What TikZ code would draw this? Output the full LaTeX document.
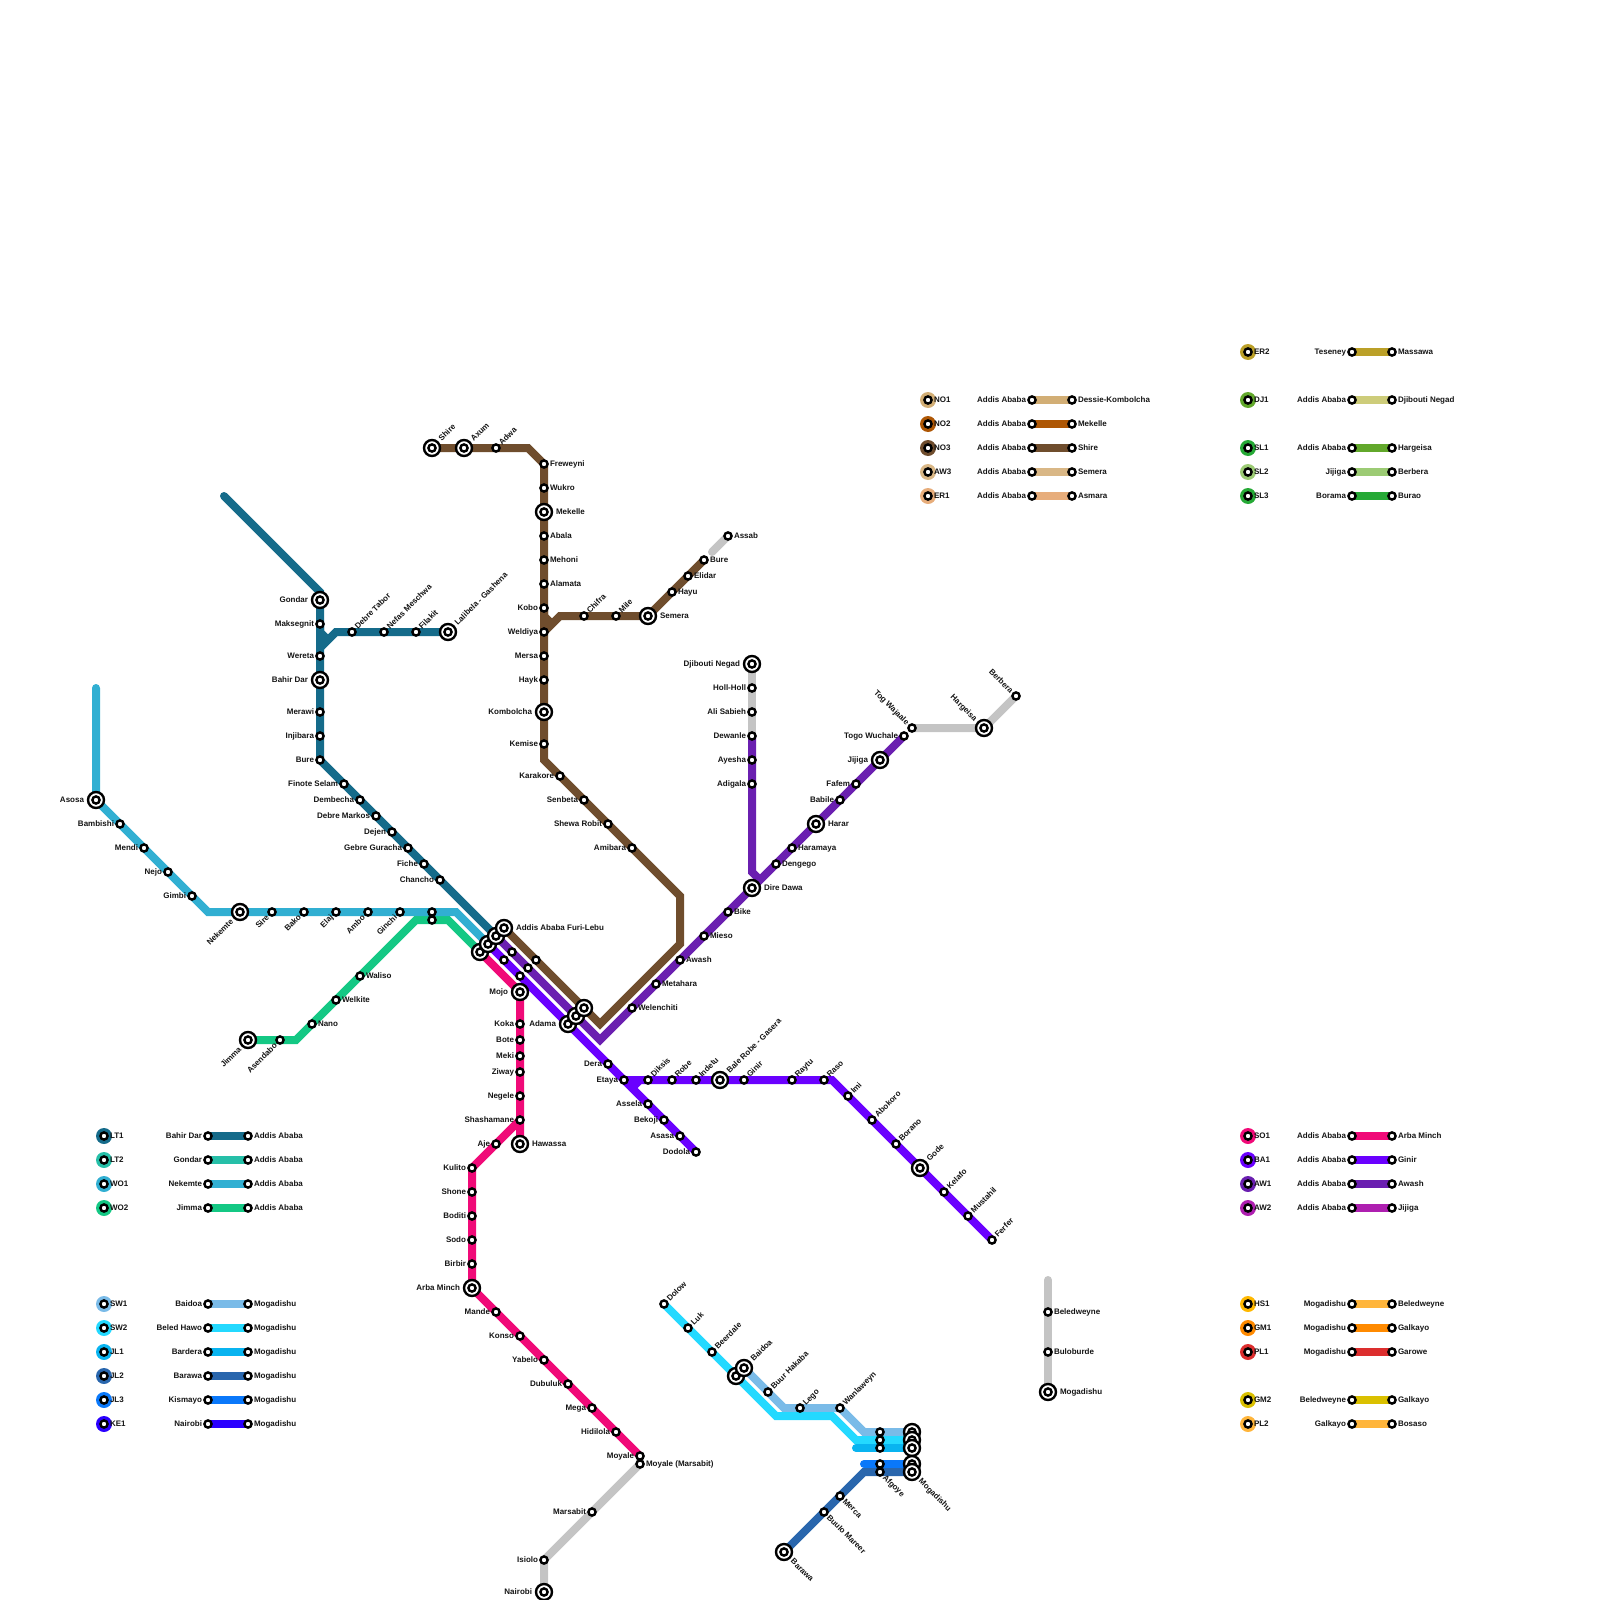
\documentclass[tikz,border=0pt]{standalone}
\usepackage{fontspec}
\setmainfont{Liberation Sans}
\pgfdeclarelayer{lines}
\pgfsetlayers{lines,main}
\definecolor{cLTa}{HTML}{156B8A}\definecolor{cLTb}{HTML}{26BFA8}
\definecolor{cWOa}{HTML}{31AFD2}\definecolor{cWOb}{HTML}{14C884}
\definecolor{cSWa}{HTML}{7ABBE8}\definecolor{cSWb}{HTML}{24D9FF}
\definecolor{cJLa}{HTML}{09B4F0}\definecolor{cJLb}{HTML}{2966AD}
\definecolor{cJLc}{HTML}{0A78FA}\definecolor{cKEa}{HTML}{2A00FF}
\definecolor{cNOa}{HTML}{D2AE75}\definecolor{cNOb}{HTML}{AE5705}
\definecolor{cNOc}{HTML}{6F4D2D}\definecolor{cAWc}{HTML}{D9B786}
\definecolor{cERa}{HTML}{E7AD7B}\definecolor{cERb}{HTML}{BBA028}
\definecolor{cDJa}{HTML}{CDCC7A}\definecolor{cSLa}{HTML}{62A82B}
\definecolor{cSLb}{HTML}{9CCB74}\definecolor{cSLc}{HTML}{26A936}
\definecolor{cSOa}{HTML}{F00A78}\definecolor{cBAa}{HTML}{6A00FF}
\definecolor{cAWa}{HTML}{6A1FB0}\definecolor{cAWb}{HTML}{AE1FB0}
\definecolor{cHSa}{HTML}{FFB53B}\definecolor{cHSd}{HTML}{FFB800}
\definecolor{cGMa}{HTML}{FF8A00}\definecolor{cPLa}{HTML}{DC2E2E}
\definecolor{cGMb}{HTML}{DAC000}\definecolor{cGrey}{HTML}{C4C4C4}
\tikzset{
  stn/.style={circle,draw=black,fill=white,line width=2.4pt,minimum size=7.2pt,inner sep=0pt,outer sep=0pt},
  icn/.style={circle,draw=black,fill=white,line width=2.4pt,minimum size=16pt,inner sep=0pt,outer sep=0pt,
    path picture={\draw[line width=2.4pt,fill=white] (path picture bounding box.center) circle[radius=3.6pt];}},
  txt/.style={font=\bfseries\fontsize{8pt}{9pt}\selectfont,text=black!92,inner sep=0pt,outer sep=0pt},
  lW/.style={txt,anchor=base east,shift={(-6pt,-2.5pt)}},
  lE/.style={txt,anchor=base west,shift={(6pt,-2.5pt)}},
  lNE/.style={txt,rotate=45,anchor=base west,shift={(6pt,-2.6pt)}},
  lSW/.style={txt,rotate=45,anchor=base east,shift={(-6pt,-2.6pt)}},
  lSE/.style={txt,rotate=-45,anchor=base west,shift={(6pt,-2.6pt)}},
  lNW/.style={txt,rotate=-45,anchor=base east,shift={(-6pt,-2.6pt)}},
  LW/.style={txt,anchor=base east,shift={(-12pt,-2.5pt)}},
  LE/.style={txt,anchor=base west,shift={(12pt,-2.5pt)}},
  LNE/.style={txt,rotate=45,anchor=base west,shift={(11.5pt,-2.6pt)}},
  LSW/.style={txt,rotate=45,anchor=base east,shift={(-11.5pt,-2.6pt)}},
  LSE/.style={txt,rotate=-45,anchor=base west,shift={(11.5pt,-2.6pt)}},
  LNW/.style={txt,rotate=-45,anchor=base east,shift={(-11.5pt,-2.6pt)}},
  lineway/.style={line width=8pt,line cap=round,line join=miter,miter limit=10},
  disc/.style={circle,minimum size=16pt,inner sep=0pt,outer sep=0pt},
}
% station: id x y label style
\newcommand\MSt[5]{\node[stn] (#1) at (#2,#3) {}; \node[#5] (#1-t) at (#1) {#4};}
\newcommand\MIc[5]{\node[icn] (#1) at (#2,#3) {}; \node[#5] (#1-t) at (#1) {#4};}
\newcommand\MNo[3]{\node[stn] (#1) at (#2,#3) {};}
\newcommand\MCo[3]{\coordinate (#1) at (#2,#3);}
% legend row: id disc line code from to y
\newcommand\MLeg[7]{%
  \node[disc,fill=#2] (#1-d) at (\xd,#7) {};
  \node[stn] (#1-c) at (#1-d) {};
  \node[lE] (#1-n) at (#1-d) {#4};
  \MSt{#1-a}{\xa}{#7}{#5}{lW}
  \MSt{#1-b}{\xb}{#7}{#6}{lE}
  \begin{pgfonlayer}{lines}\draw[lineway,#3,line cap=butt] (#1-a.center) -- (#1-b.center);\end{pgfonlayer}
}
\begin{document}
\begin{tikzpicture}[x=1pt,y=-1pt]
\useasboundingbox (0,0) rectangle (1600,1600);
% --- LT1
\MCo{ltStart}{224}{496}\MCo{ltGa}{320}{592}\MCo{ltBr}{320}{648}\MCo{ltBs}{336}{632}\MCo{ltWa}{320}{632}\MCo{ltWb}{328}{640}
\MIc{gondar}{320}{600}{Gondar}{LW}
\MSt{maksegnit}{320}{624}{Maksegnit}{lW}
\MSt{wereta}{320}{656}{Wereta}{lW}
\MIc{bahirdar}{320}{680}{Bahir Dar}{LW}
\MSt{merawi}{320}{712}{Merawi}{lW}
\MSt{injibara}{320}{736}{Injibara}{lW}
\MSt{bure}{320}{760}{Bure}{lW}
\MSt{finote}{344}{784}{Finote Selam}{lW}
\MSt{dembecha}{360}{800}{Dembecha}{lW}
\MSt{markos}{376}{816}{Debre Markos}{lW}
\MSt{dejen}{392}{832}{Dejen}{lW}
\MSt{guracha}{408}{848}{Gebre Guracha}{lW}
\MSt{fiche}{424}{864}{Fiche}{lW}
\MSt{chancho}{440}{880}{Chancho}{lW}
\MSt{tabor}{352}{632}{Debre Tabor}{lNE}
\MSt{nefas}{384}{632}{Nefas Meschwa}{lNE}
\MSt{filakit}{416}{632}{Filakit}{lNE}
\MIc{lalibela}{448}{632}{Lalibela - Gashena}{LNE}
% --- WO1 / WO2
\MCo{woTop}{96}{688}\MCo{woB}{208}{912}\MCo{woC}{456}{912}
\MIc{asosa}{96}{800}{Asosa}{LW}
\MSt{bambishi}{120}{824}{Bambishi}{lW}
\MSt{mendi}{144}{848}{Mendi}{lW}
\MSt{nejo}{168}{872}{Nejo}{lW}
\MSt{gimbi}{192}{896}{Gimbi}{lW}
\MIc{nekemte}{240}{912}{Nekemte}{LSW}
\MSt{sire}{272}{912}{Sire}{lSW}
\MSt{bako}{304}{912}{Bako}{lSW}
\MSt{elaj}{336}{912}{Elaj}{lSW}
\MSt{ambo}{368}{912}{Ambo}{lSW}
\MSt{ginchi}{400}{912}{Ginchi}{lSW}
\MNo{woX}{432}{912}
\MNo{wtX}{432}{920}
\MCo{wtA}{296}{1040}\MCo{wtB}{416}{920}\MCo{wtC}{448}{920}
\MIc{jimma}{248}{1040}{Jimma}{LSW}
\MSt{asendabo}{280}{1040}{Asendabo}{lSW}
\MSt{nano}{312}{1024}{Nano}{lE}
\MSt{welkite}{336}{1000}{Welkite}{lE}
\MSt{waliso}{360}{976}{Waliso}{lE}
% --- Addis
\MIc{addA}{480}{952}{}{LE}
\MIc{addB}{488}{944}{}{LE}
\MIc{addC}{496}{936}{}{LE}
\MIc{addD}{504}{928}{Addis Ababa Furi-Lebu}{LE}
\MNo{baA}{504}{960}\MNo{baB}{520}{976}
\MNo{awA}{512}{952}\MNo{awB}{528}{968}
\MNo{noA}{536}{960}
\MIc{adamaA}{568}{1024}{Adama}{LW}
\MIc{adamaB}{576}{1016}{}{LE}
\MIc{adamaC}{584}{1008}{}{LE}
% --- SO1
\MIc{mojo}{520}{992}{Mojo}{LW}
\MSt{koka}{520}{1024}{Koka}{lW}
\MSt{bote}{520}{1040}{Bote}{lW}
\MSt{meki}{520}{1056}{Meki}{lW}
\MSt{ziway}{520}{1072}{Ziway}{lW}
\MSt{negele}{520}{1096}{Negele}{lW}
\MSt{shasha}{520}{1120}{Shashamane}{lW}
\MIc{hawassa}{520}{1144}{Hawassa}{LE}
\MSt{aje}{496}{1144}{Aje}{lW}
\MSt{kulito}{472}{1168}{Kulito}{lW}
\MSt{shone}{472}{1192}{Shone}{lW}
\MSt{boditi}{472}{1216}{Boditi}{lW}
\MSt{sodo}{472}{1240}{Sodo}{lW}
\MSt{birbir}{472}{1264}{Birbir}{lW}
\MIc{arba}{472}{1288}{Arba Minch}{LW}
\MSt{mande}{496}{1312}{Mande}{lW}
\MSt{konso}{520}{1336}{Konso}{lW}
\MSt{yabelo}{544}{1360}{Yabelo}{lW}
\MSt{dubuluk}{568}{1384}{Dubuluk}{lW}
\MSt{mega}{592}{1408}{Mega}{lW}
\MSt{hidilola}{616}{1432}{Hidilola}{lW}
\MSt{moyale}{640}{1456}{Moyale}{lW}
\MSt{moyaleM}{640}{1464}{Moyale (Marsabit)}{lE}
\MSt{marsabit}{592}{1512}{Marsabit}{lW}
\MSt{isiolo}{544}{1560}{Isiolo}{lW}
\MIc{nairobi}{544}{1592}{Nairobi}{LW}
% --- BA1
\MSt{dera}{608}{1064}{Dera}{lW}
\MSt{etaya}{624}{1080}{Etaya}{lW}
\MSt{assela}{648}{1104}{Assela}{lW}
\MSt{bekoji}{664}{1120}{Bekoji}{lW}
\MSt{asasa}{680}{1136}{Asasa}{lW}
\MSt{dodola}{696}{1152}{Dodola}{lW}
\MSt{diksis}{648}{1080}{Diksis}{lNE}
\MSt{robe}{672}{1080}{Robe}{lNE}
\MSt{indetu}{696}{1080}{Indetu}{lNE}
\MIc{bale}{720}{1080}{Bale Robe - Gasera}{LNE}
\MSt{ginir}{744}{1080}{Ginir}{lNE}
\MSt{raytu}{792}{1080}{Raytu}{lNE}
\MSt{raso}{824}{1080}{Raso}{lNE}
\MCo{baBend}{832}{1080}\MCo{baJa}{640}{1080}\MCo{baJb}{632}{1088}
\MSt{imi}{848}{1096}{Imi}{lNE}
\MSt{abokoro}{872}{1120}{Abokoro}{lNE}
\MSt{borano}{896}{1144}{Borano}{lNE}
\MIc{gode}{920}{1168}{Gode}{LNE}
\MSt{kelafo}{944}{1192}{Kelafo}{lNE}
\MSt{mustahil}{968}{1216}{Mustahil}{lNE}
\MSt{ferfer}{992}{1240}{Ferfer}{lNE}
% --- AW1
\MCo{awV}{600}{1040}\MCo{awJa}{752}{872}\MCo{awJb}{760}{880}
\MSt{welenchiti}{632}{1008}{Welenchiti}{lE}
\MSt{metahara}{656}{984}{Metahara}{lE}
\MSt{awash}{680}{960}{Awash}{lE}
\MSt{mieso}{704}{936}{Mieso}{lE}
\MSt{bike}{728}{912}{Bike}{lE}
\MIc{dire}{752}{888}{Dire Dawa}{LE}
\MSt{adigala}{752}{784}{Adigala}{lW}
\MSt{ayesha}{752}{760}{Ayesha}{lW}
\MSt{dewanle}{752}{736}{Dewanle}{lW}
\MSt{alisabieh}{752}{712}{Ali Sabieh}{lW}
\MSt{holl}{752}{688}{Holl-Holl}{lW}
\MIc{djibouti}{752}{664}{Djibouti Negad}{LW}
\MSt{dengego}{776}{864}{Dengego}{lE}
\MSt{haramaya}{792}{848}{Haramaya}{lE}
\MIc{harar}{816}{824}{Harar}{LE}
\MSt{babile}{840}{800}{Babile}{lW}
\MSt{fafem}{856}{784}{Fafem}{lW}
\MIc{jijiga}{880}{760}{Jijiga}{LW}
\MSt{togo}{904}{736}{Togo Wuchale}{lW}
\MSt{tog}{912}{728}{Tog Wajaale}{lNW}
\MIc{hargeisa}{984}{728}{Hargeisa}{LNW}
\MSt{berbera}{1016}{696}{Berbera}{lNW}
% --- NO3
\MCo{noV}{600}{1024}\MCo{noE}{680}{944}\MCo{noF}{680}{896}\MCo{noG}{544}{760}\MCo{noKa}{544}{616}\MCo{noKb}{552}{624}
\MSt{amibara}{632}{848}{Amibara}{lW}
\MSt{shewa}{608}{824}{Shewa Robit}{lW}
\MSt{senbeta}{584}{800}{Senbeta}{lW}
\MSt{karakore}{560}{776}{Karakore}{lW}
\MSt{kemise}{544}{744}{Kemise}{lW}
\MIc{kombolcha}{544}{712}{Kombolcha}{LW}
\MSt{hayk}{544}{680}{Hayk}{lW}
\MSt{mersa}{544}{656}{Mersa}{lW}
\MSt{weldiya}{544}{632}{Weldiya}{lW}
\MSt{kobo}{544}{608}{Kobo}{lW}
\MSt{alamata}{544}{584}{Alamata}{lE}
\MSt{mehoni}{544}{560}{Mehoni}{lE}
\MSt{abala}{544}{536}{Abala}{lE}
\MIc{mekelle}{544}{512}{Mekelle}{LE}
\MSt{wukro}{544}{488}{Wukro}{lE}
\MSt{freweyni}{544}{464}{Freweyni}{lE}
\MCo{noH}{528}{448}
\MSt{adwa}{496}{448}{Adwa}{lNE}
\MIc{axum}{464}{448}{Axum}{LNE}
\MIc{shire}{432}{448}{Shire}{LNE}
\MCo{noJ}{560}{616}
\MSt{chifra}{584}{616}{Chifra}{lNE}
\MSt{mile}{616}{616}{Mile}{lNE}
\MIc{semera}{648}{616}{Semera}{LE}
\MSt{hayu}{672}{592}{Hayu}{lE}
\MSt{elidar}{688}{576}{Elidar}{lE}
\MSt{bureE}{704}{560}{Bure}{lE}
\MCo{gyS}{712}{552}
\MSt{assab}{728}{536}{Assab}{lE}
% --- Somalia
\MCo{swaA}{784}{1408}\MCo{swaB}{864}{1432}
\MCo{swbA}{776}{1416}\MCo{swbB}{832}{1416}\MCo{swbC}{856}{1440}
\MCo{jlaS}{856}{1448}\MCo{jlcS}{864}{1464}\MCo{jlbB}{864}{1472}
\MSt{dolow}{664}{1304}{Dolow}{lNE}
\MSt{luk}{688}{1328}{Luk}{lNE}
\MSt{beerdale}{712}{1352}{Beerdale}{lNE}
\MIc{baidoaB}{736}{1376}{}{LE}
\MIc{baidoaA}{744}{1368}{Baidoa}{LNE}
\MSt{buur}{768}{1392}{Buur Hakaba}{lNE}
\MSt{lego}{800}{1408}{Lego}{lNE}
\MSt{wanla}{840}{1408}{Wanlaweyn}{lNE}
\MNo{afA}{880}{1432}\MNo{afB}{880}{1440}\MNo{afC}{880}{1448}\MNo{afD}{880}{1464}
\MSt{afgoye}{880}{1472}{Afgoye}{lSE}
\MIc{mogA}{912}{1432}{}{LE}
\MIc{mogB}{912}{1440}{}{LE}
\MIc{mogC}{912}{1448}{}{LE}
\MIc{mogD}{912}{1464}{}{LE}
\MIc{mogE}{912}{1472}{Mogadishu}{LSE}
\MIc{barawa}{784}{1552}{Barawa}{LSE}
\MSt{buulo}{824}{1512}{Buulo Mareer}{lSE}
\MSt{merca}{840}{1496}{Merca}{lSE}
\MCo{hsTop}{1048}{1280}
\MSt{beled}{1048}{1312}{Beledweyne}{lE}
\MSt{bulo}{1048}{1352}{Buloburde}{lE}
\MIc{mogF}{1048}{1392}{Mogadishu}{LE}
% --- lines
\begin{pgfonlayer}{lines}
\draw[lineway,cGrey] (hsTop) -- (beled.center) -- (bulo.center) -- (mogF.center);
\draw[lineway,cGrey] (moyaleM.center) -- (marsabit.center) -- (isiolo.center) -- (nairobi.center);
\draw[lineway,cGrey] (djibouti.center) -- (holl.center) -- (alisabieh.center) -- (dewanle.center);
\draw[lineway,cGrey] (tog.center) -- (hargeisa.center) -- (berbera.center);
\draw[lineway,cGrey] (gyS) -- (assab.center);
\draw[lineway,cLTa] (ltStart) -- (ltGa) -- (gondar.center) -- (bure.center) -- (addC.center);
\draw[lineway,cLTa] (lalibela.center) -- (ltBs) -- (ltBr);
\draw[lineway,cLTa,line cap=butt] (maksegnit.center) -- (ltWa) -- (ltWb);
\draw[lineway,cWOb] (jimma.center) -- (wtA) -- (wtB) -- (wtC) -- (addA.center);
\draw[lineway,cWOa] (woTop) -- (asosa.center) -- (woB) -- (woC) -- (addB.center);
\draw[lineway,cSOa] (addA.center) -- (mojo.center) -- (hawassa.center);
\draw[lineway,cSOa] (shasha.center) -- (kulito.center) -- (arba.center) -- (moyale.center);
\draw[lineway,cBAa] (addB.center) -- (dodola.center);
\draw[lineway,cBAa] (baJb) -- (baJa) -- (baBend) -- (ferfer.center);
\draw[lineway,cBAa] (etaya.center) -- (baJa);
\draw[lineway,cAWa] (addC.center) -- (awV) -- (dire.center);
\draw[lineway,cAWa] (dire.center) -- (togo.center);
\draw[lineway,cAWa,line cap=butt] (dewanle.center) -- (awJa) -- (awJb);
\draw[lineway,cNOc] (addD.center) -- (noV) -- (noE) -- (noF) -- (noG) -- (freweyni.center) -- (noH) -- (shire.center);
\draw[lineway,cNOc,line cap=butt] (kobo.center) -- (noKa) -- (noKb);
\draw[lineway,cNOc] (weldiya.center) -- (noJ) -- (semera.center) -- (bureE.center);
\draw[lineway,cSWa] (baidoaA.center) -- (swaA) -- (wanla.center) -- (swaB) -- (mogA.center);
\draw[lineway,cSWb] (dolow.center) -- (swbA) -- (swbB) -- (swbC) -- (mogB.center);
\draw[lineway,cJLa] (jlaS) -- (mogC.center);
\draw[lineway,cJLb] (barawa.center) -- (jlbB) -- (mogE.center);
\draw[lineway,cJLc] (jlcS) -- (mogD.center);
\end{pgfonlayer}
% --- legends
\def\xd{104}\def\xa{208}\def\xb{248}
\MLeg{LTa}{cLTa}{cLTa}{LT1}{Bahir Dar}{Addis Ababa}{1136}
\MLeg{LTb}{cLTb}{cLTb}{LT2}{Gondar}{Addis Ababa}{1160}
\MLeg{WOa}{cWOa}{cWOa}{WO1}{Nekemte}{Addis Ababa}{1184}
\MLeg{WOb}{cWOb}{cWOb}{WO2}{Jimma}{Addis Ababa}{1208}
\MLeg{SWa}{cSWa}{cSWa}{SW1}{Baidoa}{Mogadishu}{1304}
\MLeg{SWb}{cSWb}{cSWb}{SW2}{Beled Hawo}{Mogadishu}{1328}
\MLeg{JLa}{cJLa}{cJLa}{JL1}{Bardera}{Mogadishu}{1352}
\MLeg{JLb}{cJLb}{cJLb}{JL2}{Barawa}{Mogadishu}{1376}
\MLeg{JLc}{cJLc}{cJLc}{JL3}{Kismayo}{Mogadishu}{1400}
\MLeg{KEa}{cKEa}{cKEa}{KE1}{Nairobi}{Mogadishu}{1424}
\def\xd{928}\def\xa{1032}\def\xb{1072}
\MLeg{NOa}{cNOa}{cNOa}{NO1}{Addis Ababa}{Dessie-Kombolcha}{400}
\MLeg{NOb}{cNOb}{cNOb}{NO2}{Addis Ababa}{Mekelle}{424}
\MLeg{NOc}{cNOc}{cNOc}{NO3}{Addis Ababa}{Shire}{448}
\MLeg{AWc}{cAWc}{cAWc}{AW3}{Addis Ababa}{Semera}{472}
\MLeg{ERa}{cERa}{cERa}{ER1}{Addis Ababa}{Asmara}{496}
\def\xd{1248}\def\xa{1352}\def\xb{1392}
\MLeg{ERb}{cERb}{cERb}{ER2}{Teseney}{Massawa}{352}
\MLeg{DJa}{cSLa}{cDJa}{DJ1}{Addis Ababa}{Djibouti Negad}{400}
\MLeg{SLa}{cSLc}{cSLa}{SL1}{Addis Ababa}{Hargeisa}{448}
\MLeg{SLb}{cSLb}{cSLb}{SL2}{Jijiga}{Berbera}{472}
\MLeg{SLc}{cSLc}{cSLc}{SL3}{Borama}{Burao}{496}
\MLeg{SOa}{cSOa}{cSOa}{SO1}{Addis Ababa}{Arba Minch}{1136}
\MLeg{BAa}{cBAa}{cBAa}{BA1}{Addis Ababa}{Ginir}{1160}
\MLeg{AWa}{cAWa}{cAWa}{AW1}{Addis Ababa}{Awash}{1184}
\MLeg{AWb}{cAWb}{cAWb}{AW2}{Addis Ababa}{Jijiga}{1208}
\MLeg{HSa}{cHSd}{cHSa}{HS1}{Mogadishu}{Beledweyne}{1304}
\MLeg{GMa}{cGMa}{cGMa}{GM1}{Mogadishu}{Galkayo}{1328}
\MLeg{PLa}{cPLa}{cPLa}{PL1}{Mogadishu}{Garowe}{1352}
\MLeg{GMb}{cGMb}{cGMb}{GM2}{Beledweyne}{Galkayo}{1400}
\MLeg{PLb}{cHSa}{cHSa}{PL2}{Galkayo}{Bosaso}{1424}
\end{tikzpicture}
\end{document}
